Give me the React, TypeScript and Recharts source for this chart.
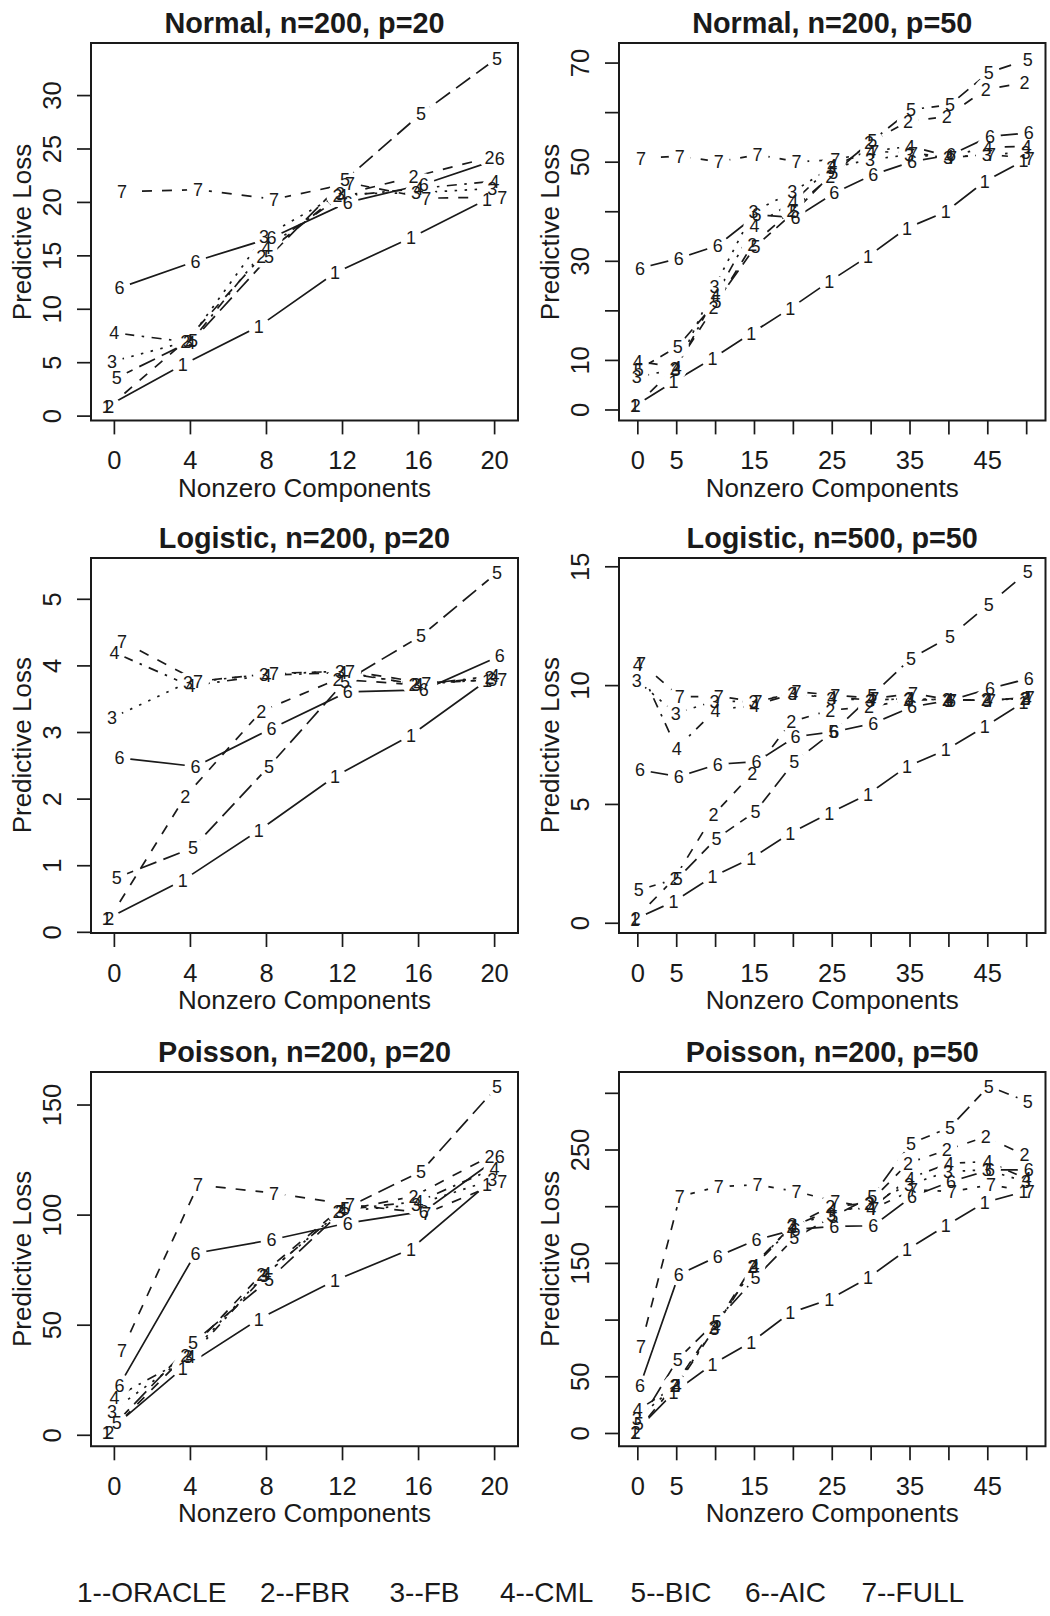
import React from "react";
import { LineChart, Line, XAxis, YAxis, ReferenceArea } from "recharts";

const FONT = '"Liberation Sans", Arial, Helvetica, sans-serif';
const INK = "#1a1a1a";

// legend names, series 1..7
const methods = ["ORACLE", "FBR", "FB", "CML", "BIC", "AIC", "FULL"];
// small horizontal offset of each series (matplot jitter)
const xJitter = [-0.4, -0.27, -0.13, 0, 0.13, 0.27, 0.4];
// R lty 1:5 recycled -> solid, dashed, dotted, dotdash, longdash, solid, dashed
const seriesDash = ["", "10 10", "2.5 7.5", "2.5 7.5 10 7.5", "17.5 7.5", "", "10 10"];

const kSmall = [0, 4, 8, 12, 16, 20];
const kLarge = [0, 5, 10, 15, 20, 25, 30, 35, 40, 45, 50];
const kLargeLabels = [0, 5, 15, 25, 35, 45];

const normal20 = [
  [0.9, 4.8, 8.4, 13.4, 16.7, 20.3],
  [0.9, 7.0, 14.9, 20.6, 22.4, 24.2],
  [5.1, 7.0, 16.8, 20.8, 20.9, 21.3],
  [7.8, 6.9, 15.8, 20.6, 21.3, 22.0],
  [3.6, 7.1, 14.9, 22.1, 28.3, 33.5],
  [12.0, 14.5, 16.7, 20.0, 21.7, 24.1],
  [21.0, 21.2, 20.3, 21.8, 20.4, 20.5],
];

const normal50 = [
  [0.8, 5.7, 10.4, 15.5, 20.5, 25.9, 31.0, 36.7, 40.0, 46.1, 50.3],
  [0.8, 8.4, 20.6, 33.3, 40.2, 47.1, 53.9, 58.2, 59.2, 64.7, 66.0],
  [6.7, 8.2, 24.9, 40.0, 44.0, 48.9, 50.5, 51.5, 51.0, 51.5, 52.0],
  [9.8, 8.6, 23.0, 37.2, 42.0, 49.4, 52.2, 53.2, 51.2, 53.0, 53.2],
  [8.2, 12.8, 21.9, 33.0, 40.0, 47.9, 54.3, 60.6, 61.6, 68.1, 70.7],
  [28.6, 30.6, 33.2, 39.4, 38.8, 43.8, 47.5, 50.1, 51.5, 55.2, 55.9],
  [50.8, 51.2, 50.1, 51.5, 50.1, 50.5, 52.2, 51.8, 51.0, 51.5, 50.8],
];

const logistic20 = [
  [0.2, 0.78, 1.53, 2.34, 2.96, 3.78],
  [0.2, 2.04, 3.32, 3.8, 3.72, 3.82],
  [3.22, 3.75, 3.87, 3.92, 3.72, 3.8],
  [4.2, 3.7, 3.86, 3.9, 3.72, 3.85],
  [0.82, 1.27, 2.49, 3.77, 4.45, 5.4],
  [2.62, 2.49, 3.06, 3.61, 3.64, 4.15],
  [4.37, 3.77, 3.89, 3.92, 3.74, 3.8],
];

const logistic50 = [
  [0.17, 0.91, 1.96, 2.73, 3.79, 4.63, 5.43, 6.59, 7.29, 8.27, 9.3],
  [0.21, 1.89, 4.56, 6.31, 8.48, 8.97, 9.1, 9.4, 9.4, 9.4, 9.45],
  [10.23, 8.83, 9.35, 9.32, 9.67, 9.46, 9.39, 9.45, 9.39, 9.39, 9.45],
  [10.9, 7.36, 8.97, 9.18, 9.65, 9.5, 9.4, 9.45, 9.4, 9.4, 9.45],
  [1.4, 1.89, 3.57, 4.7, 6.8, 8.06, 9.6, 11.15, 12.06, 13.42, 14.79],
  [6.45, 6.17, 6.69, 6.8, 7.85, 8.06, 8.41, 9.11, 9.39, 9.88, 10.3],
  [10.95, 9.53, 9.55, 9.32, 9.74, 9.6, 9.46, 9.67, 9.39, 9.39, 9.5],
];

const poisson20 = [
  [1.2, 30.5, 52.8, 70.3, 84.6, 114.0],
  [1.2, 36.2, 73.0, 101.7, 108.5, 126.6],
  [11.0, 36.0, 72.5, 101.7, 104.7, 116.0],
  [17.1, 35.7, 73.5, 102.5, 106.2, 121.3],
  [6.0, 42.0, 70.7, 103.0, 119.8, 158.3],
  [22.8, 82.7, 88.8, 96.4, 101.7, 126.6],
  [38.5, 113.7, 110.0, 104.7, 100.9, 115.3],
];

const poisson50 = [
  [0.9, 36, 61, 80.6, 106.4, 118.1, 137.2, 162, 183.2, 203.7, 213],
  [0.9, 42.5, 93.2, 147.4, 182.6, 200, 203.2, 238.3, 250, 261.7, 245.6],
  [13, 42, 93, 147, 184, 193, 203, 219.3, 231, 232.5, 222],
  [20.8, 42, 94, 148, 183, 197.3, 198.8, 225.2, 238.3, 239.8, 224.5],
  [9, 65.4, 99.1, 137.2, 172.4, 191.4, 209, 255.9, 269.9, 306.3, 292.5],
  [41.9, 140.1, 156.2, 170.9, 180, 182.6, 183.2, 209, 222.2, 232.5, 232.5],
  [77.1, 209, 217.8, 219.3, 213.4, 204.6, 198.8, 214.9, 213.4, 219.3, 213.4],
];

type Panel = {
  title: string;
  k: number[];
  rows: number[][];
  xDomain: [number, number];
  yDomain: [number, number];
  xLabels: number[];
  yTicks: number[];
  yLabels: number[];
  left: number;
  top: number;
  width: number;
  height: number;
};

const LEFT_COL = { left: 91, width: 427, xDomain: [-1.23, 21.23] as [number, number] };
const RIGHT_COL = { left: 619, width: 426.5, xDomain: [-2.42, 52.42] as [number, number] };

const panels: Panel[] = [
  {
    title: "Normal, n=200, p=20", k: kSmall, rows: normal20, ...LEFT_COL,
    yDomain: [-0.4, 34.92], xLabels: kSmall,
    yTicks: [0, 5, 10, 15, 20, 25, 30], yLabels: [0, 5, 10, 15, 20, 25, 30],
    top: 43.3, height: 377.4,
  },
  {
    title: "Normal, n=200, p=50", k: kLarge, rows: normal50, ...RIGHT_COL,
    yDomain: [-2.1, 74.05], xLabels: kLargeLabels,
    yTicks: [0, 10, 20, 30, 40, 50, 60, 70], yLabels: [0, 10, 30, 50, 70],
    top: 43.3, height: 377.4,
  },
  {
    title: "Logistic, n=200, p=20", k: kSmall, rows: logistic20, ...LEFT_COL,
    yDomain: [-0.01, 5.62], xLabels: kSmall,
    yTicks: [0, 1, 2, 3, 4, 5], yLabels: [0, 1, 2, 3, 4, 5],
    top: 557.7, height: 375,
  },
  {
    title: "Logistic, n=500, p=50", k: kLarge, rows: logistic50, ...RIGHT_COL,
    yDomain: [-0.41, 15.37], xLabels: kLargeLabels,
    yTicks: [0, 5, 10, 15], yLabels: [0, 5, 10, 15],
    top: 557.7, height: 375,
  },
  {
    title: "Poisson, n=200, p=20", k: kSmall, rows: poisson20, ...LEFT_COL,
    yDomain: [-5, 165], xLabels: kSmall,
    yTicks: [0, 50, 100, 150], yLabels: [0, 50, 100, 150],
    top: 1071.7, height: 374.3,
  },
  {
    title: "Poisson, n=200, p=50", k: kLarge, rows: poisson50, ...RIGHT_COL,
    yDomain: [-11.3, 318.8], xLabels: kLargeLabels,
    yTicks: [0, 50, 100, 150, 200, 250, 300], yLabels: [0, 50, 150, 250],
    top: 1071.7, height: 374.3,
  },
];

const legendX = [77, 260, 389.5, 500, 630.6, 745, 861.4];

const renderXTick = (p: any, labels: number[]) => {
  const v = p.payload.value;
  if (!labels.includes(v)) return <g />;
  return (
    <text x={p.x} y={p.y + 35} textAnchor="middle" fontSize={25.5} fontFamily={FONT} fill={INK}>
      {v}
    </text>
  );
};

const renderYTick = (p: any, labels: number[]) => {
  const v = p.payload.value;
  if (!labels.includes(v)) return <g />;
  return (
    <text
      transform={`translate(${p.x - 25},${p.y}) rotate(-90)`}
      textAnchor="middle"
      dy="0.36em"
      fontSize={25.5}
      fontFamily={FONT}
      fill={INK}
    >
      {v}
    </text>
  );
};

function PanelChart({ panel }: { panel: Panel }) {
  const { k, rows, xDomain, yDomain, xLabels, yTicks, yLabels, left, top, width, height } = panel;
  const padL = 80;
  const padT = 10;
  const padR = 6;
  const padB = 60;
  const series = rows.map((vals, i) => k.map((x, j) => ({ x: x + xJitter[i], y: vals[j] })));

  return (
    <div style={{ position: "absolute", left: left - padL, top: top - padT }}>
      <LineChart
        width={padL + width + padR}
        height={padT + height + padB}
        margin={{ top: padT, right: padR, bottom: 0, left: 0 }}
      >
        <XAxis
          type="number"
          dataKey="x"
          domain={xDomain}
          ticks={k}
          interval={0}
          allowDataOverflow
          height={padB}
          tickSize={14}
          tickMargin={0}
          axisLine={false}
          tickLine={{ stroke: INK, strokeWidth: 1.7 }}
          tick={(p: any) => renderXTick(p, xLabels)}
        />
        <YAxis
          type="number"
          domain={yDomain}
          ticks={yTicks}
          interval={0}
          allowDataOverflow
          width={padL}
          tickSize={14}
          tickMargin={0}
          axisLine={false}
          tickLine={{ stroke: INK, strokeWidth: 1.7 }}
          tick={(p: any) => renderYTick(p, yLabels)}
        />
        <ReferenceArea
          x1={xDomain[0]}
          x2={xDomain[1]}
          y1={yDomain[0]}
          y2={yDomain[1]}
          fill="none"
          stroke={INK}
          strokeWidth={2}
          ifOverflow="visible"
        />
        {series.map((data, i) => (
          <Line
            key={`line-${i}`}
            data={data}
            dataKey="y"
            type="linear"
            stroke={INK}
            strokeWidth={1.7}
            strokeDasharray={seriesDash[i] || undefined}
            dot={false}
            activeDot={false}
            isAnimationActive={false}
          />
        ))}
        {series.map((data, i) => (
          <Line
            key={`gap-${i}`}
            data={data}
            dataKey="y"
            stroke="none"
            dot={(d: any) => <circle key={`g${i}-${d.index}`} cx={d.cx} cy={d.cy} r={11} fill="#fff" stroke="none" />}
            activeDot={false}
            isAnimationActive={false}
          />
        ))}
        {series.map((data, i) => (
          <Line
            key={`num-${i}`}
            data={data}
            dataKey="y"
            stroke="none"
            dot={(d: any) => (
              <text
                key={`n${i}-${d.index}`}
                x={d.cx}
                y={d.cy}
                dy="0.36em"
                textAnchor="middle"
                fontSize={18}
                fontFamily={FONT}
                fill={INK}
              >
                {i + 1}
              </text>
            )}
            activeDot={false}
            isAnimationActive={false}
          />
        ))}
      </LineChart>
    </div>
  );
}

export default function App() {
  return (
    <div
      style={{
        position: "absolute",
        left: 0,
        top: 0,
        width: 1050,
        height: 1616,
        overflow: "hidden",
        background: "#fff",
      }}
    >
      {panels.map((p) => (
        <PanelChart key={p.title} panel={p} />
      ))}
      <svg width={1050} height={1616} style={{ position: "absolute", left: 0, top: 0, pointerEvents: "none" }}>
        {panels.map((p) => {
          const cx = p.left + p.width / 2;
          const cy = p.top + p.height / 2;
          return (
            <g key={`t-${p.title}`} fontFamily={FONT} fill={INK}>
              <text x={cx} y={p.top - 10} textAnchor="middle" fontSize={28.8} fontWeight="bold">
                {p.title}
              </text>
              <text x={cx} y={p.top + p.height + 76} textAnchor="middle" fontSize={26}>
                Nonzero Components
              </text>
              <text
                transform={`translate(${p.left - 60},${cy}) rotate(-90)`}
                textAnchor="middle"
                fontSize={26}
              >
                Predictive Loss
              </text>
            </g>
          );
        })}
        {methods.map((m, i) => (
          <text key={m} x={legendX[i]} y={1602} fontSize={28} fontFamily={FONT} fill={INK}>
            {`${i + 1}--${m}`}
          </text>
        ))}
      </svg>
    </div>
  );
}
